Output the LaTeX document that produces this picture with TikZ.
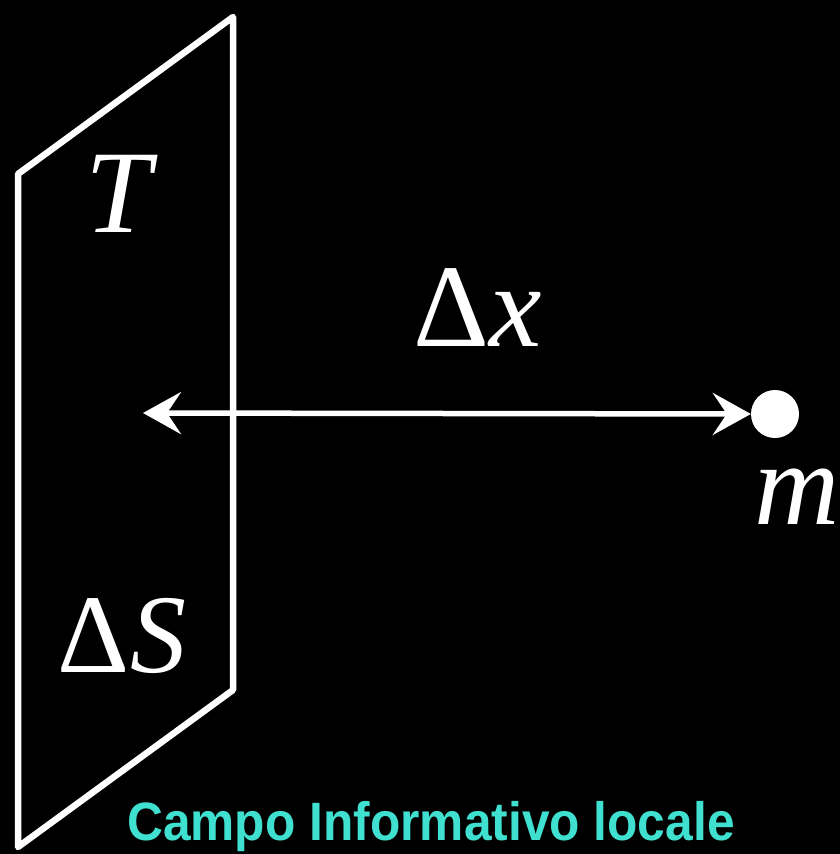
\documentclass[tikz,border=0pt]{standalone}
\usepackage{fontspec}
\setmainfont{Liberation Serif}
\newfontfamily\capfont[FakeStretch=0.92]{Liberation Sans}
\usetikzlibrary{arrows.meta}
\definecolor{capcyan}{RGB}{64,224,208}
\tikzset{
  plane/.style={draw=white, line width=6.5pt, line join=round},
  biarrow/.style={draw=white, line width=5.5pt, {Stealth[length=38pt,width=42pt,inset=14pt]}-{Stealth[length=38pt,width=42pt,inset=14pt]}},
  bigtxt/.style={text=white, font=\fontsize{118}{118}\selectfont, inner sep=0pt},
  captxt/.style={text=capcyan, font=\capfont\bfseries\fontsize{54}{54}\selectfont, inner sep=0pt}
}
\begin{document}
\begin{tikzpicture}[x=1pt,y=-1pt]
\fill[black] (0,0) rectangle (840,854);
\useasboundingbox (0,0) rectangle (840,854);
\coordinate (tl) at (18,174);
\coordinate (tr) at (233,17);
\coordinate (br) at (233,690);
\coordinate (bl) at (18,847);
\draw[plane] (tl) -- (tr) -- (br) -- (bl) -- cycle;
\node[circle, fill=white, minimum size=48pt, inner sep=0pt] (m) at (775,414) {};
\coordinate (la) at (143,413);
\draw[biarrow] (la) -- (m.west);
\node[bigtxt, anchor=base] (T) at (122,232) {\textit{T}};
\node[bigtxt, anchor=base, font=\fontsize{112}{112}\selectfont] (dS) at (122,672) {Δ\textit{S}};
\node[bigtxt, anchor=base] (dx) at (478,346) {Δ\textit{x}};
\node[bigtxt, anchor=base] (mm) at (797,524) {\textit{m}};
\node[captxt, anchor=base] (cap) at (431,840) {Campo Informativo locale};
\end{tikzpicture}
\end{document}
